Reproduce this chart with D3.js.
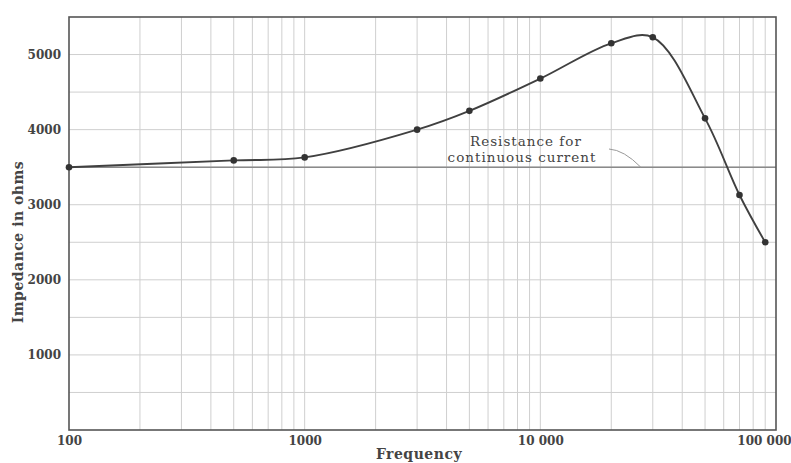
<!DOCTYPE html>
<html>
<head>
<meta charset="utf-8">
<script src="https://cdn.jsdelivr.net/npm/d3@7"></script>
<style>
  body { margin: 0; background: #fff; }
  svg text { font-family: "DejaVu Serif", "Liberation Serif", serif; fill: #444; }
  .grid line { stroke: #cfcfcf; stroke-width: 1; }
  .tick text { font-size: 12px; font-weight: bold; }
</style>
</head>
<body>
<svg id="chart" width="791" height="463"></svg>
<script>
// 数据
const frequencies = [100, 500, 1000, 3000, 5000, 10000, 20000, 30000, 50000, 70000, 90000];
const impedance   = [3500, 3590, 3630, 4000, 4250, 4680, 5150, 5230, 4150, 3130, 2500];
const resistance  = 3500;
const xTicks = [100, 1000, 10000, 100000];
const yTicks = [1000, 2000, 3000, 4000, 5000];

const svg = d3.select('#chart');
const plotLeft = 69, plotRight = 776, plotTop = 17, plotBottom = 430;

const x = d3.scaleLog().domain([100, 100000]).range([plotLeft, plotRight]);
const y = d3.scaleLinear().domain([0, 5500]).range([plotBottom, plotTop]);

// 网格 - 竖线 (对数)
const vLines = [];
for (let d = 100; d < 100000; d *= 10) {
    for (let k = 2; k <= 9; k++) vLines.push(d * k);
}
vLines.push(1000, 10000);
svg.append('g').attr('class', 'grid')
    .selectAll('line').data(vLines).enter().append('line')
    .attr('x1', d => x(d)).attr('x2', d => x(d))
    .attr('y1', plotTop).attr('y2', plotBottom);

// 网格 - 横线
svg.append('g').attr('class', 'grid')
    .selectAll('line').data(d3.range(500, 5500, 500)).enter().append('line')
    .attr('x1', plotLeft).attr('x2', plotRight)
    .attr('y1', d => y(d)).attr('y2', d => y(d));

// 直流电阻线
svg.append('line')
    .attr('x1', plotLeft).attr('x2', plotRight)
    .attr('y1', y(resistance)).attr('y2', y(resistance))
    .attr('stroke', '#8a8a8a').attr('stroke-width', 1.6);

// 边框
svg.append('rect')
    .attr('x', plotLeft).attr('y', plotTop)
    .attr('width', plotRight - plotLeft).attr('height', plotBottom - plotTop)
    .attr('fill', 'none').attr('stroke', '#555').attr('stroke-width', 1.6);

// 坐标轴
const fmt = d => d >= 10000 ? d3.format(',')(d).replace(/,/g, ' ') : String(d);
const xAxis = svg.append('g')
    .attr('transform', `translate(0,${plotBottom})`)
    .call(d3.axisBottom(x).tickValues(xTicks).tickFormat(fmt).tickSize(0).tickPadding(6));
xAxis.select('.domain').remove();
xAxis.selectAll('.tick').filter(d => d === 100000).select('text').attr('dx', -12);

const yAxis = svg.append('g')
    .attr('transform', `translate(${plotLeft},0)`)
    .call(d3.axisLeft(y).tickValues(yTicks).tickFormat(d3.format('d')).tickSize(0).tickPadding(8));
yAxis.select('.domain').remove();

// 曲线
const pts = frequencies.map((f, i) => [f, impedance[i]]);
const line = d3.line()
    .x(d => x(d[0]))
    .y(d => y(d[1]))
    .curve(d3.curveCatmullRom.alpha(0.5));
svg.append('path')
    .datum(pts)
    .attr('d', line)
    .attr('fill', 'none')
    .attr('stroke', '#404040')
    .attr('stroke-width', 1.9);

svg.selectAll('.dot')
    .data(pts).enter().append('circle')
    .attr('class', 'dot')
    .attr('cx', d => x(d[0])).attr('cy', d => y(d[1]))
    .attr('r', 3.3).attr('fill', '#333');

// 注释
svg.append('text').attr('x', 526).attr('y', 146)
    .attr('text-anchor', 'middle')
    .style('font-size', '13.5px').style('letter-spacing', '1px')
    .text('Resistance for');
svg.append('text').attr('x', 522).attr('y', 162)
    .attr('text-anchor', 'middle')
    .style('font-size', '13.5px').style('letter-spacing', '1px')
    .text('continuous current');
svg.append('path')
    .attr('d', `M609,149 Q624,150 ${x(30000) - 12},${y(resistance)}`)
    .attr('fill', 'none').attr('stroke', '#999').attr('stroke-width', 1);

// 轴标题
svg.append('text')
    .attr('x', 419).attr('y', 459)
    .attr('text-anchor', 'middle')
    .style('font-size', '14px').style('font-weight', 'bold').style('letter-spacing', '0.5px')
    .text('Frequency');
svg.append('text')
    .attr('transform', 'translate(23,242) rotate(-90)')
    .attr('text-anchor', 'middle')
    .style('font-size', '14px').style('font-weight', 'bold').style('letter-spacing', '0.5px')
    .text('Impedance in ohms');
</script>
</body>
</html>
